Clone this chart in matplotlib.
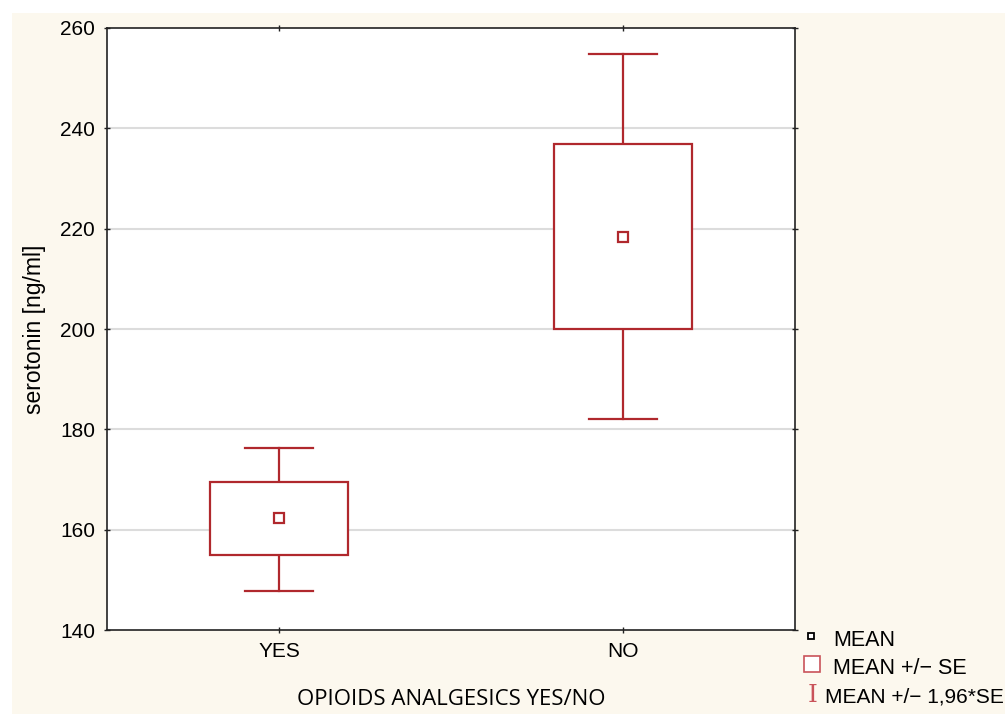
import matplotlib
matplotlib.use('Agg')
import matplotlib.pyplot as plt
from matplotlib.patches import Rectangle

# data
groups = ['YES', 'NO']
means = [162.3, 218.3]
se_low = [155.0, 200.0]
se_high = [169.5, 236.9]
ci_low = [147.8, 182.1]
ci_high = [176.3, 254.8]

red = '#b0282d'
cream = '#fcf8ee'

fig = plt.figure(figsize=(10.05, 7.14), dpi=100)
fig.patch.set_facecolor('white')
# cream page area (white margin on top and left like the scan)
fig.patches.append(Rectangle((12 / 1005, 0), 1, 1 - 13 / 714, transform=fig.transFigure,
                             facecolor=cream, edgecolor='none', zorder=-10))

ax = fig.add_axes([0.1065, 0.1176, 0.6846, 0.8432])
ax.set_facecolor('white')

ax.set_xlim(-0.5, 1.5)
ax.set_ylim(140, 260)
ax.set_yticks(range(140, 261, 20))
ax.set_xticks(range(len(groups)))
ax.set_xticklabels(groups)

# grid
for y in range(160, 260, 20):
    ax.axhline(y, color='#dcdcdc', lw=1.5, zorder=0)

for i in range(len(groups)):
    # whiskers (1.96*SE)
    ax.plot([i, i], [se_high[i], ci_high[i]], color=red, lw=1.6, zorder=2)
    ax.plot([i, i], [ci_low[i], se_low[i]], color=red, lw=1.6, zorder=2)
    ax.plot([i - 0.1, i + 0.1], [ci_high[i]] * 2, color=red, lw=1.6, zorder=2)
    ax.plot([i - 0.1, i + 0.1], [ci_low[i]] * 2, color=red, lw=1.6, zorder=2)
    # box (SE)
    ax.add_patch(Rectangle((i - 0.2, se_low[i]), 0.4, se_high[i] - se_low[i],
                           facecolor='white', edgecolor=red, lw=1.6, zorder=3))
    # mean
    ax.plot(i, means[i], marker='s', ms=7, mfc='white', mec=red, mew=1.6, zorder=4)

for s in ax.spines.values():
    s.set_linewidth(1.2)
    s.set_color('#222222')

ax.tick_params(direction='inout', length=5, width=1, labelsize=15, pad=6,
               colors='#222222', labelcolor='black', top=True, right=True)
for lab in ax.get_xticklabels() + ax.get_yticklabels():
    lab.set_family('Liberation Sans')

ax.set_ylabel('serotonin [ng/ml]', fontsize=16.5, family='Liberation Sans', labelpad=10)
ax.set_xlabel('OPIOIDS ANALGESICS YES/NO', fontsize=16, family='Open Sans', labelpad=20)

# legend drawn by hand in figure coordinates
def fy(py):
    return 1 - py / 714

fig.lines.append(plt.Line2D([811 / 1005], [fy(636)], marker='s', ms=5, mfc='white',
                            mec='black', mew=1.3, transform=fig.transFigure))
fig.text(833 / 1005, fy(640), 'MEAN', fontsize=15.5, family='Liberation Sans', va='center')
fig.lines.append(plt.Line2D([812 / 1005], [fy(664)], marker='s', ms=11, mfc='white',
                            mec='#c9535a', mew=1.2, transform=fig.transFigure))
fig.text(833 / 1005, fy(668), 'MEAN +/\u2212 SE', fontsize=15.5, family='Liberation Sans', va='center')
fig.text(813 / 1005, fy(695), 'I', fontsize=18, family='DejaVu Serif', color='#c9535a',
         va='center', ha='center')
fig.text(825 / 1005, fy(697), 'MEAN +/\u2212 1,96*SE', fontsize=15, family='Liberation Sans', va='center')

fig.savefig('out.png', dpi=100, facecolor='white')
